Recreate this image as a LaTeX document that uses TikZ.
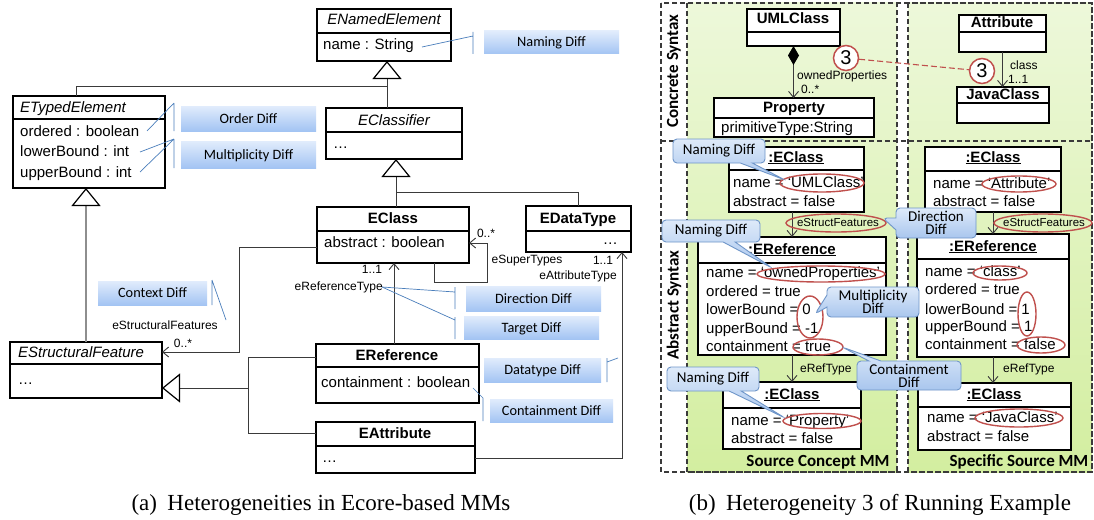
\documentclass[tikz,border=0pt]{standalone}
\usepackage{fontspec}
\setmainfont{Liberation Sans}
\newfontfamily\calf{Carlito}
\newfontfamily\timesf{Liberation Serif}
\usetikzlibrary{arrows.meta,fit,shapes.callouts,shapes.geometric}
\newcommand\fsz[1]{\fontsize{#1}{#1}\selectfont}
\definecolor{diffT}{HTML}{E1ECFC}
\definecolor{diffB}{HTML}{A3C4F3}
\definecolor{callT}{HTML}{DEEAF9}
\definecolor{callBot}{HTML}{A9C6EE}
\definecolor{callB}{HTML}{6F96C9}
\definecolor{blueln}{HTML}{4A7EBB}
\definecolor{redc}{HTML}{C0504D}
\definecolor{grT}{HTML}{EDF8DA}
\definecolor{grB}{HTML}{D3EEA0}
\definecolor{lnc}{HTML}{3A3A3A}
\definecolor{grayln}{HTML}{8E8E8E}
\newcommand\umlbox[6]{\node[uml, fit={(#2,#3)(#4,#5)}] (#1) {};
  \draw[umlline] (#2,#6) -- (#4,#6);}
\newcommand\diffb[6]{\node[diffbox, fit={(#2,#3)(#4,#5)}] (#1) {};
  \node[difftxt] (#1t) at (#1.center) {#6};}
\begin{document}
\begin{tikzpicture}[x=1pt,y=-1pt,
  uml/.style={draw=black, line width=1.1pt, fill=white, inner sep=0pt, outer sep=0pt},
  umlline/.style={draw=black, line width=1.1pt},
  tx/.style={inner sep=0pt, text height=11pt, text depth=3pt, font=\fsz{15}},
  hdb/.style={tx, font=\bfseries\fsz{15}},
  hdi/.style={tx, font=\itshape\fsz{15}},
  sm/.style={inner sep=0pt, text height=8.7pt, text depth=2.5pt, font=\fsz{12}},
  tinyl/.style={inner sep=0pt, text height=8.3pt, text depth=2.4pt, font=\fsz{11.5}},
  ellip/.style={inner sep=0pt, font=\fsz{15}},
  gen/.style={draw=lnc, line width=0.9pt},
  gengray/.style={draw=grayln, line width=1.1pt},
  gentip/.style={-{Triangle[open,length=18pt,width=29pt,line width=1.2pt,color=black]}},
  assoc/.style={draw=lnc, line width=0.9pt, -{Straight Barb[length=6pt,width=10pt]}},
  comp/.style={draw=lnc, line width=0.9pt, {Diamond[length=19pt,width=11pt,color=black]}-{Straight Barb[length=6pt,width=10pt]}},
  diffbox/.style={top color=diffT, bottom color=diffB, draw=none, inner sep=0pt},
  difftxt/.style={inner sep=0pt, text height=11pt, text depth=2pt, font=\calf\fsz{14.3}},
  bline/.style={draw=blueln, line width=0.7pt},
  redell/.style={ellipse, draw=redc, line width=1.4pt, inner sep=0pt},
  circ/.style={circle, draw=redc, line width=1.5pt, fill=white, minimum size=25pt, inner sep=0pt, font=\fsz{20}},
  callbox/.style={rectangle callout, rounded corners=4pt, draw=callB, line width=0.9pt, top color=callT, bottom color=callBot, align=center, inner sep=0pt, callout pointer width=12pt, font=\calf\fontsize{15}{13}\selectfont},
  greenp/.style={top color=grT, bottom color=grB, draw=lnc, line width=1.1pt, dash pattern=on 5pt off 3pt},
  dashedf/.style={draw=lnc, line width=1.1pt, dash pattern=on 5pt off 3pt},
  lbl/.style={font=\calf\bfseries\fsz{17}, inner sep=0pt}
]
\path[use as bounding box, fill=white] (0,0) rectangle (1094,519);

% ================= LEFT (a) =================
\umlbox{ENamed}{317}{9}{451}{61}{33}
\umlbox{ETyped}{13}{96}{165}{188}{119}
\umlbox{EClassifier}{326}{108}{462}{159}{132}
\umlbox{EClass}{317}{207}{469}{263}{231}
\umlbox{EDataType}{526}{206}{631}{252}{231}
\umlbox{EStructF}{10}{342}{162}{398}{364}
\umlbox{ERef}{316}{344}{479}{403}{367}
\umlbox{EAttr}{316}{422}{475}{473}{446}

\node[hdi] (hENamed) at (384,21) {ENamedElement};
\node[tx, anchor=west] (aName) at (323,46) {name : String};
\node[hdi, anchor=west] (hETyped) at (20,108) {ETypedElement};
\node[tx, anchor=west] (aOrd) at (20,132) {ordered : boolean};
\node[tx, anchor=west] (aLow) at (20,152) {lowerBound : int};
\node[tx, anchor=west] (aUp) at (20,173) {upperBound : int};
\node[hdi] (hEClassifier) at (394,121) {EClassifier};
\node[ellip, anchor=west] (dEClassifier) at (333,148) {…};
\node[hdb] (hEClass) at (393,219) {EClass};
\node[tx, anchor=west] (aAbs) at (324,243) {abstract : boolean};
\node[hdb] (hEDataType) at (578,219) {EDataType};
\node[ellip, anchor=east] (dEDataType) at (618,244) {…};
\node[hdi, anchor=west] (hEStructF) at (18,353) {EStructuralFeature};
\node[ellip, anchor=west] (dEStructF) at (18,384) {…};
\node[hdb] (hERef) at (397,356) {EReference};
\node[tx, anchor=west] (aCont) at (321,383) {containment : boolean};
\node[hdb] (hEAttr) at (395,434) {EAttribute};
\node[ellip, anchor=west] (dEAttr) at (322,462) {…};

% generalizations
\coordinate (j1) at (387,86);
\coordinate (j2) at (76,86);
\draw[gen, gentip] (EClassifier.north -| j1) -- (ENamed.south -| j1);
\draw[gen] (ETyped.north -| j2) -- (j2) -- (j1);
\coordinate (j3) at (86,270);
\draw[gengray, gentip] (EStructF.north -| j3) -- (ETyped.south -| j3);
\coordinate (j4) at (396,192);
\coordinate (j5) at (578,192);
\draw[gen, gentip] (EClass.north -| j4) -- (EClassifier.south -| j4);
\draw[gen] (EDataType.north -| j5) -- (j5) -- (j4);
\coordinate (j6) at (248,388);
\coordinate (j7) at (248,357);
\coordinate (j8) at (248,433);
\draw[gen, gentip] (j6) -- (EStructF.east |- j6);
\draw[gen] (ERef.west |- j7) -- (j7) -- (j8) -- (EAttr.west |- j8);

% associations
\coordinate (a1) at (239,247);
\coordinate (a2) at (239,352);
\draw[assoc] (EClass.west |- a1) -- (a1) -- (a2) -- (EStructF.east |- a2);
\coordinate (s1) at (434,282);
\coordinate (s2) at (487,282);
\coordinate (s3) at (487,243);
\draw[assoc] (EClass.south -| s1) -- (s1) -- (s2) -- (s3) -- (EClass.east |- s3);
\coordinate (r1) at (394,300);
\draw[assoc] (ERef.north -| r1) -- (EClass.south -| r1);
\coordinate (t1) at (622,458);
\draw[assoc] (EAttr.east |- t1) -- (t1) -- (EDataType.south -| t1);

\node[sm] (lESF) at (165,326) {eStructuralFeatures};
\node[sm] (lESFm) at (183,344) {0..*};
\node[sm] (lSTm) at (486,234) {0..*};
\node[sm] (lST) at (527,260) {eSuperTypes};
\node[sm] (lRTm) at (372,270) {1..1};
\node[sm, anchor=east] (lRT) at (383,287) {eReferenceType};
\node[sm] (lATm) at (603,261) {1..1};
\node[sm, anchor=east] (lAT) at (617,276) {eAttributeType};

% diff boxes
\diffb{dNaming}{484}{31}{619}{54}{Naming Diff}
\diffb{dOrder}{181}{106}{316}{131}{Order Diff}
\diffb{dMult}{181}{141}{316}{168}{Multiplicity Diff}
\diffb{dContext}{98}{281}{207}{305}{Context Diff}
\diffb{dDir}{466}{286}{601}{311}{Direction Diff}
\diffb{dTarget}{464}{316}{599}{339}{Target Diff}
\diffb{dDatatype}{484}{358}{601}{382}{Datatype Diff}
\diffb{dCont}{490}{399}{613}{422}{Containment Diff}

\draw[bline] (422,47) -- (473,36) (473,32) -- (473,54);
\draw[bline] (147,131) -- (174,103) (174,103) -- (174,131);
\draw[bline] (140,152) -- (174,139) (140,172) -- (174,139) (174,139) -- (174,168);
\draw[bline] (212,280) -- (212,305) (212,280) -- (226,320);
\draw[bline] (382,287) -- (455,292) (455,287) -- (455,309);
\draw[bline] (382,287) -- (455,320) (455,317) -- (455,339);
\draw[bline] (607,358) -- (607,382) (607,362) -- (618,358);
\draw[bline] (473,388) -- (483,398) (483,398) -- (483,421);

\node[anchor=base, inner sep=0pt, font=\timesf\fsz{23}] (capA) at (321,510) {(a)\hspace{0.45em}Heterogeneities in Ecore-based MMs};

% ================= RIGHT (b) =================
\path[greenp] (687,3) rectangle (897,472);
\path[greenp] (908,3) rectangle (1092,472);
\draw[dashedf] (661,3) rectangle (1092,472);
\draw[dashedf] (661,141) -- (1092,141);
\node[lbl, rotate=90] (lblCS) at (674,71) {Concrete Syntax};
\node[lbl, rotate=90] (lblAS) at (674,305) {Abstract Syntax};
\node[lbl] (lblSC) at (818,462) {Source Concept MM};
\node[lbl] (lblSS) at (1019,462) {Specific Source MM};

\umlbox{UMLC}{747}{9}{840}{46}{32}
\umlbox{Prop}{714}{98}{874}{137}{118}
\umlbox{Attr}{959}{15}{1046}{52}{32}
\umlbox{JavaC}{957}{87}{1049}{123}{103}
\umlbox{EC1}{729}{147}{864}{212}{170}
\umlbox{ER1}{698}{237}{886}{355}{263}
\umlbox{EC2}{723}{382}{861}{449}{408}
\umlbox{EC3}{925}{147}{1061}{212}{171}
\umlbox{ER2}{917}{234}{1069}{357}{259}
\umlbox{EC4}{918}{383}{1071}{450}{407}

\node[hdb] (hUMLC) at (793,20) {UMLClass};
\node[hdb] (hProp) at (794,108) {Property};
\node[tx, anchor=west] (aPT) at (721,128) {primitiveType:String};
\node[hdb] (hAttr) at (1002,24) {Attribute};
\node[hdb] (hJavaC) at (1003,95) {JavaClass};

\node[hdb] (hEC1) at (796,158) {\underline{:EClass}};
\node[tx, anchor=west] (ec1a) at (733,183) {name = ‘UMLClass’};
\node[tx, anchor=west] (ec1b) at (733,202) {abstract = false};
\node[hdb] (hER1) at (792,250) {\underline{:EReference}};
\node[tx, anchor=west] (er1a) at (706,273) {name = ‘ownedProperties’};
\node[tx, anchor=west] (er1b) at (706,292) {ordered = true};
\node[tx, anchor=west] (er1c) at (706,310) {lowerBound = 0};
\node[tx, anchor=west] (er1d) at (706,329) {upperBound = -1};
\node[tx, anchor=west] (er1e) at (706,347) {containment = true};
\node[hdb] (hEC2) at (792,395) {\underline{:EClass}};
\node[tx, anchor=west] (ec2a) at (731,421) {name = ‘Property’};
\node[tx, anchor=west] (ec2b) at (731,439) {abstract = false};
\node[hdb] (hEC3) at (993,158) {\underline{:EClass}};
\node[tx, anchor=west] (ec3a) at (933,184) {name = ‘Attribute’};
\node[tx, anchor=west] (ec3b) at (933,202) {abstract = false};
\node[hdb] (hER2) at (993,247) {\underline{:EReference}};
\node[tx, anchor=west] (er2a) at (925,272) {name = ‘class’};
\node[tx, anchor=west] (er2b) at (925,290) {ordered = true};
\node[tx, anchor=west] (er2c) at (925,310) {lowerBound = 1};
\node[tx, anchor=west] (er2d) at (925,327) {upperBound = 1};
\node[tx, anchor=west] (er2e) at (925,345) {containment = false};
\node[hdb] (hEC4) at (994,395) {\underline{:EClass}};
\node[tx, anchor=west] (ec4a) at (927,418) {name = ‘JavaClass’};
\node[tx, anchor=west] (ec4b) at (927,437) {abstract = false};

% connectors right
\draw[comp] (UMLC.south) -- (UMLC.south |- Prop.north);
\node[sm, anchor=west] (lOP) at (797,76) {ownedProperties};
\node[sm, anchor=west] (lOPm) at (801,90) {0..*};
\draw[assoc] (Attr.south) -- (Attr.south |- JavaC.north);
\node[sm, anchor=west] (lCl) at (1010,66) {class};
\node[sm, anchor=west] (lClm) at (1008,80) {1..1};

\node[circ] (c1) at (846,58) {3};
\node[circ] (c2) at (982,71) {3};
\draw[draw=redc, line width=1.1pt, dash pattern=on 6pt off 3pt] (c1) -- (c2);

\coordinate (k1) at (792,300);
\coordinate (k2) at (993,300);
\draw[assoc] (EC1.south -| k1) -- (ER1.north -| k1);
\draw[assoc] (EC3.south -| k2) -- (ER2.north -| k2);
\draw[assoc] (ER1.south -| k1) -- (EC2.north -| k1);
\draw[assoc] (ER2.south -| k2) -- (EC4.north -| k2);
\node[tinyl] (lSF1) at (838,224) {eStructFeatures};
\node[tinyl] (lSF2) at (1044,224) {eStructFeatures};
\node[sm, anchor=west] (lRT1) at (800,369) {eRefType};
\node[sm, anchor=west] (lRT2) at (1003,369) {eRefType};

% red ellipses
\node[redell, minimum width=100pt, minimum height=18pt] (elSF1) at (836,223) {};
\node[redell, minimum width=98pt, minimum height=18pt] (elSF2) at (1043,223) {};
\node[redell, minimum width=84pt, minimum height=18pt] (el1) at (822,183) {};
\node[redell, minimum width=128pt, minimum height=16pt] (el2) at (821,274) {};
\node[redell, minimum width=26pt, minimum height=42pt] (el3) at (810,317) {};
\node[redell, minimum width=50pt, minimum height=16pt] (el4) at (818,347) {};
\node[redell, minimum width=78pt, minimum height=15pt] (el5) at (822,421) {};
\node[redell, minimum width=74pt, minimum height=16pt] (el6) at (1019,184) {};
\node[redell, minimum width=54pt, minimum height=14pt] (el7) at (1000,273) {};
\node[redell, minimum width=18pt, minimum height=44pt] (el8) at (1027,314) {};
\node[redell, minimum width=48pt, minimum height=16pt] (el9) at (1041,345) {};
\node[redell, minimum width=88pt, minimum height=18pt] (el10) at (1019,418) {};

% callouts
\node[callbox, minimum width=92pt, minimum height=24pt, callout absolute pointer={(785,180)}] (cN1) at (719,151) {Naming Diff};
\node[callbox, minimum width=98pt, minimum height=22pt, callout absolute pointer={(772,268)}] (cN2) at (711,231) {Naming Diff};
\node[callbox, minimum width=92pt, minimum height=24pt, callout absolute pointer={(785,418)}] (cN3) at (713,379) {Naming Diff};
\node[callbox, minimum width=80pt, minimum height=30pt, callout absolute pointer={(883,218)}] (cDir) at (936,223) {Direction\\Diff};
\node[callbox, minimum width=92pt, minimum height=30pt, callout absolute pointer={(815,314)}] (cMult) at (873,302) {Multiplicity\\Diff};
\node[callbox, minimum width=104pt, minimum height=29pt, callout absolute pointer={(842,347)}] (cCont) at (909,375.5) {Containment\\Diff};

\node[anchor=base, inner sep=0pt, font=\timesf\fsz{23}] (capB) at (880,510) {(b)\hspace{0.45em}Heterogeneity 3 of Running Example};
\end{tikzpicture}
\end{document}
